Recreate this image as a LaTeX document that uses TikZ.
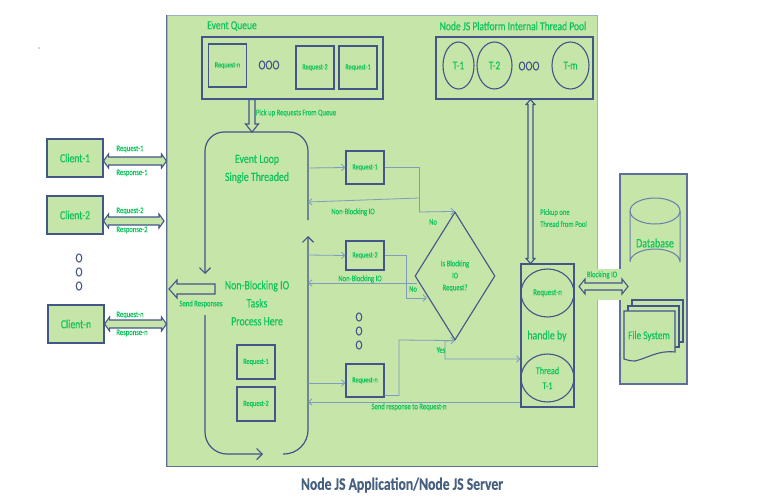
\documentclass[tikz,border=0pt]{standalone}
\usepackage{fontspec}
\setmainfont[FakeStretch=0.78,FakeBold=0.35]{Carlito}
\usetikzlibrary{arrows.meta,shapes.geometric,calc}
\definecolor{panelgreen}{HTML}{C5E5A9}
\definecolor{textgreen}{HTML}{0CC45C}
\definecolor{lineblue}{HTML}{425689}
\definecolor{thinblue}{HTML}{7F9BBE}
\definecolor{titleblue}{HTML}{47607F}
\tikzset{
  lbl/.style={text=textgreen,inner sep=0pt,align=center},
  small/.style={lbl,font=\fontsize{8.5}{8.5}\selectfont},
  mid/.style={lbl,font=\fontsize{12.2}{11}\selectfont},
  big/.style={lbl,font=\fontsize{12.6}{18}\selectfont},
  sbox/.style={draw=lineblue,line width=1.1pt,inner sep=0pt,text=textgreen,align=center},
  reqbox/.style={sbox,font=\fontsize{8}{8.5}\selectfont},
  clientbox/.style={sbox,fill=panelgreen,minimum width=56pt,minimum height=38pt,font=\fontsize{12.3}{12}\selectfont},
  ell/.style={ellipse,sbox},
  ooo/.style={text=lineblue,inner sep=0pt,font=\fontsize{13.5}{14}\selectfont},
  dots/.style={ooo,align=center},
  thin/.style={draw=thinblue,line width=0.8pt},
  thinarrow/.style={thin,-{Straight Barb[length=3.5pt,width=6.5pt]}},
  flow/.style={draw=lineblue,line width=1.2pt},
  flowarrow/.style={flow,-{Straight Barb[length=5.5pt,width=11pt]}},
  flowback/.style={flow,{Straight Barb[length=5.5pt,width=11pt]}-},
  hollowp/.style={draw=lineblue,fill=panelgreen,line width=1.1pt,line join=miter},
}
% #1,#2 ends; #3 half shaft; #4 half head; #5 head length
\newcommand\dblh[5]{\draw[hollowp] let \p1=#1,\p2=#2 in (\x1,\y1) -- (\x1+#5pt,\y1+#4pt) -- (\x1+#5pt,\y1+#3pt) -- (\x2-#5pt,\y1+#3pt) -- (\x2-#5pt,\y1+#4pt) -- (\x2,\y1) -- (\x2-#5pt,\y1-#4pt) -- (\x2-#5pt,\y1-#3pt) -- (\x1+#5pt,\y1-#3pt) -- (\x1+#5pt,\y1-#4pt) -- cycle;}
\newcommand\dblv[5]{\draw[hollowp] let \p1=#1,\p2=#2 in (\x1,\y1) -- (\x1+#4pt,\y1-#5pt) -- (\x1+#3pt,\y1-#5pt) -- (\x1+#3pt,\y2+#5pt) -- (\x1+#4pt,\y2+#5pt) -- (\x1,\y2) -- (\x1-#4pt,\y2+#5pt) -- (\x1-#3pt,\y2+#5pt) -- (\x1-#3pt,\y1-#5pt) -- (\x1-#4pt,\y1-#5pt) -- cycle;}
\newcommand\sgldown[5]{\draw[hollowp] let \p1=#1,\p2=#2 in (\x1-#3pt,\y1) -- (\x1-#3pt,\y2+#5pt) -- (\x1-#4pt,\y2+#5pt) -- (\x1,\y2) -- (\x1+#4pt,\y2+#5pt) -- (\x1+#3pt,\y2+#5pt) -- (\x1+#3pt,\y1) -- cycle;}
\newcommand\sglleft[5]{\draw[hollowp] let \p1=#1,\p2=#2 in (\x1,\y1+#3pt) -- (\x2+#5pt,\y1+#3pt) -- (\x2+#5pt,\y1+#4pt) -- (\x2,\y1) -- (\x2+#5pt,\y1-#4pt) -- (\x2+#5pt,\y1-#3pt) -- (\x1,\y1-#3pt) -- cycle;}
\begin{document}
\begin{tikzpicture}[x=1pt,y=-1pt]
\useasboundingbox (0,0) rectangle (773,500);
% panels
\node[draw=thinblue!80,fill=panelgreen,line width=1pt,minimum width=430pt,minimum height=450pt,inner sep=0pt] (panel) at (382,241) {};
\draw[draw=lineblue!85,line width=1.1pt] (panel.north west) -- (panel.south west) -- (panel.south east);
\node[draw=lineblue!85,fill=panelgreen,line width=1.1pt,minimum width=67pt,minimum height=210pt,inner sep=0pt] (side) at (653.5,279) {};
\fill[panelgreen] (596,269) rectangle (621,300);
% small mark
\node[inner sep=0pt,font=\fontsize{6}{6}\selectfont] (mark) at (39,48) {.};
% clients
\node[clientbox] (c1) at (75,158) {Client-1};
\node[clientbox] (c2) at (75,215) {Client-2};
\node[clientbox] (cn) at (76,324) {Client-n};
\node[dots] (cdots) at (79,272) {O\\O\\O};
\dblh{(c1.east |- 0,161)}{(panel.west |- 0,161)}{4}{7}{5}
\dblh{(c2.east |- 0,221)}{(164,221)}{4}{7}{5}
\dblh{(cn.east |- 0,324)}{(panel.west |- 0,324)}{4}{7}{5}
\node[small] (q1) at (130,149) {Request-1};
\node[small] (r1) at (132,173) {Response-1};
\node[small] (q2) at (130,211) {Request-2};
\node[small] (r2) at (132,230) {Response-2};
\node[small] (qn) at (130,315) {Request-n};
\node[small] (rn) at (132,333) {Response-n};
% event queue
\node[mid] (eqt) at (232,26) {Event Queue};
\node[sbox,minimum width=181pt,minimum height=62pt] (queue) at (292.5,68) {};
\node[reqbox,minimum width=38pt,minimum height=43pt] (qrn) at (227.5,65.5) {Request-n};
\node[ooo] (qo) at (269,65) {OOO};
\node[reqbox,minimum width=38pt,minimum height=43pt] (qr2) at (315,67.5) {Request-2};
\node[reqbox,minimum width=38pt,minimum height=43pt] (qr1) at (358,67.5) {Request-1};
% thread pool
\node[mid] (tpt) at (513,26) {Node JS Platform  Internal Thread Pool};
\node[sbox,minimum width=157pt,minimum height=62pt] (pool) at (514.5,68) {};
\node[ell,minimum width=31pt,minimum height=47pt,font=\fontsize{12}{11}\selectfont] (t1) at (458.5,65.5) {T-1};
\node[ell,minimum width=35pt,minimum height=47pt,font=\fontsize{12}{11}\selectfont] (t2) at (494.5,65.5) {T-2};
\node[ooo] (to) at (529,66) {OOO};
\node[ell,minimum width=37pt,minimum height=47pt,font=\fontsize{12}{11}\selectfont] (tm) at (570.5,65.5) {T-m};
% event loop
\coordinate (looptop) at (252,132);
\coordinate (loopr) at (308,168);
\draw[flowback,rounded corners=19pt] (205,274) -- (205,132) -- (308,132) -- (308,220);
\draw[flowarrow,rounded corners=22pt] (205,315) -- (205,454) -- (263,454);
\draw[flowarrow,rounded corners=24pt] (283,454) -- (308,454) -- (308,236);
\sgldown{(queue.south -| looptop)}{(looptop)}{3}{6.5}{8}
\node[small] (pk) at (296,113) {Pick up Requests From Queue};
\node[big] (el) at (257,169) {Event Loop\\Single Threaded};
\node[big] (nb) at (257,303) {Non-Blocking IO\\Tasks\\Process Here};
\node[reqbox,minimum width=38pt,minimum height=34pt] (lr1) at (256,362) {Request-1};
\node[reqbox,minimum width=38pt,minimum height=34pt] (lr2) at (256,404) {Request-2};
% send responses
\coordinate (sendtail) at (215,289);
\coordinate (sendtip) at (169,289);
\sglleft{(sendtail)}{(sendtip)}{5}{9}{8}
\node[small] (sr) at (201,304) {Send Responses};
% middle requests
\node[reqbox,minimum width=38pt,minimum height=33pt] (m1) at (365,167.5) {Request-1};
\node[reqbox,minimum width=38pt,minimum height=29pt] (m2) at (365,255.5) {Request-2};
\node[reqbox,minimum width=38pt,minimum height=33pt] (mn) at (365,380.5) {Request-n};
\node[dots] (mdots) at (359,331) {O\\O\\O};
% diamond
\node[diamond,sbox,minimum width=80pt,minimum height=128pt,aspect=0.625,font=\fontsize{8.5}{12}\selectfont] (dec) at (455,276) {Is Blocking\\IO\\Request?};
% handler
\node[sbox,minimum width=53pt,minimum height=143pt] (th) at (547.5,335.5) {};
\node[ell,minimum width=53pt,minimum height=48pt,font=\fontsize{9}{8.5}\selectfont] (th1) at (547.5,293) {Request-n};
\node[big] (hb) at (547,336) {handle by};
\node[ell,minimum width=53pt,minimum height=48pt,font=\fontsize{10.5}{15}\selectfont] (th2) at (547.5,378) {Thread\\T-1};
% thin connectors
\draw[thinarrow] (loopr) -- (m1.west);
\draw[thin] (m1.east) -- (419,167.5) -- (419,212);
\draw[thinarrow] (419,212) -- (dec.north);
\draw[thinarrow] (419,198) -- (308,202);
\node[small] (nb1) at (353,212) {Non-Blocking IO};
\node[small] (no1) at (433,222) {No};
\draw[thinarrow] (308,255) -- (m2.west);
\draw[thinarrow] (m2.east) -- (406,255.5) -- (406,298) -- (427,298);
\draw[thinarrow] (417,283) -- (308,283);
\node[small] (nb2) at (360,279) {Non-Blocking IO};
\node[small] (no2) at (413,289) {No};
\draw[thinarrow] (308,383) -- (mn.west |- 0,383);
\draw[thinarrow] (mn.east |- 0,395.5) -- (399,395.5) -- (399,340) -- (dec.south);
\draw[thinarrow] (dec.south) -- (445,341) -- (445,359) -- (th.west |- 0,359);
\node[small] (yes) at (441,350) {Yes};
\draw[thinarrow] (th.west |- 0,402) -- (308,402);
\node[small] (srn) at (409,407) {Send response to Request-n};
% pool link
\dblv{(pool.south -| 530.5,0)}{(th.north -| 530.5,0)}{2.5}{4.5}{5}
\node[small,align=left,anchor=west,font=\fontsize{8.5}{12}\selectfont] (pickup) at (540,218) {Pickup one\\Thread from Pool};
% blocking io
\coordinate (bioL) at (579,286.5);
\coordinate (bioR) at (628,286.5);
\dblh{(bioL)}{(bioR)}{3.5}{7.5}{6}
\node[small] (bio) at (602,275) {Blocking IO};
% database
\draw[draw=thinblue!60!lineblue,line width=1pt] (630,211) -- (630,262) arc[start angle=180,end angle=360,x radius=25,y radius=13] -- (680,211);
\draw[draw=thinblue!60!lineblue,line width=1pt] (655,211) ellipse[x radius=25,y radius=13];
\node[lbl,font=\fontsize{12.8}{12}\selectfont] (db) at (655,243) {Database};
% file system
\draw[draw=lineblue,fill=panelgreen,line width=1.1pt] (632,300) rectangle (683,342);
\draw[draw=lineblue,fill=panelgreen,line width=1.1pt] (628,306) rectangle (679,347);
\draw[draw=lineblue,fill=panelgreen,line width=1.1pt] (624,311) -- (675,311) -- (675,352) .. controls (658,350) and (648,358) .. (635,361) .. controls (630,361) and (627,360) .. (624,359) -- cycle;
\node[lbl,font=\fontsize{11.8}{12}\selectfont] (fs) at (649,336) {File System};
% title
\node[inner sep=0pt,text=titleblue,font=\bfseries\fontsize{17.5}{18}\selectfont] (title) at (402,485) {Node JS Application/Node JS Server};
\end{tikzpicture}
\end{document}
